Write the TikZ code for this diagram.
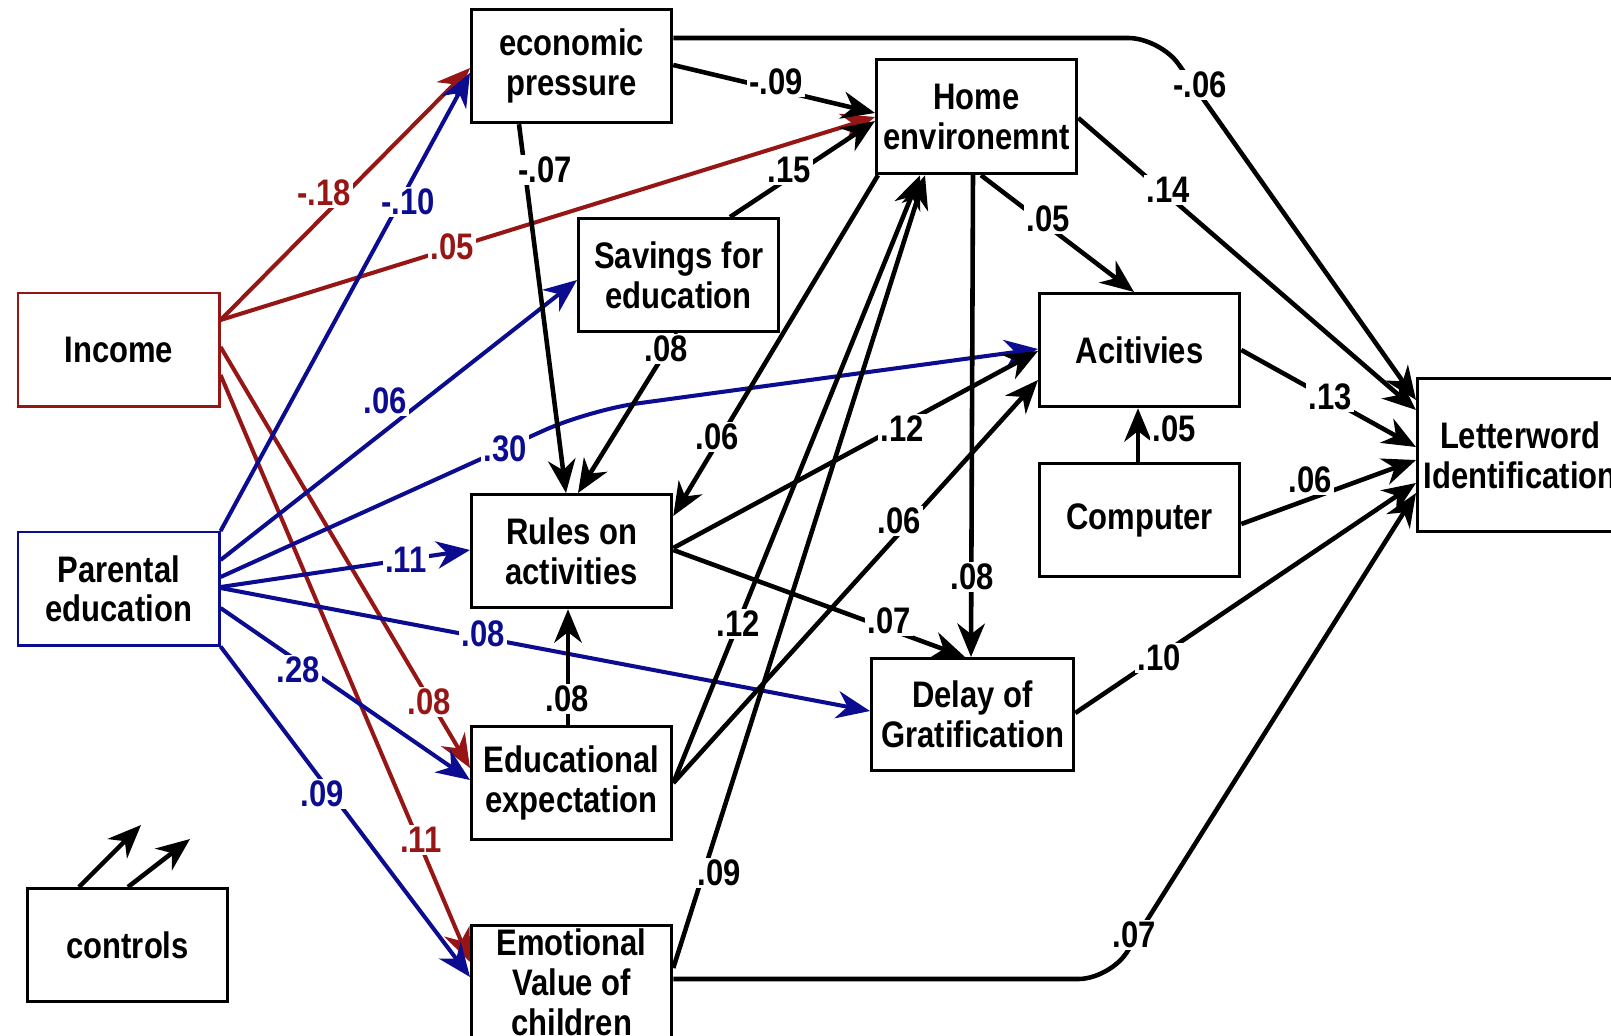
\documentclass[tikz,border=0pt]{standalone}
\usepackage{fontspec}
\newfontfamily\dfont{Liberation Sans}[FakeStretch=0.84]
\usetikzlibrary{arrows.meta,calc}
\definecolor{dred}{RGB}{150,22,22}
\definecolor{dblue}{RGB}{12,12,145}
\begin{document}
\begin{tikzpicture}[x=0.01cm,y=-0.01cm,
  txt/.style={font=\dfont\bfseries\fontsize{10.5}{11.3}\selectfont},
  box/.style={txt,draw,line width=0.9pt,fill=white,minimum width=2cm,minimum height=1.13cm,inner sep=0pt,align=center,anchor=north west},
  edge/.style={line width=1.3pt,-{Stealth[length=9.5pt,width=7.8pt,inset=3pt]}},
  redge/.style={edge,draw=dred,line width=1.15pt},
  bedge/.style={edge,draw=dblue,line width=1.15pt},
  lab/.style={txt,fill=white,inner sep=0.6pt},
  rlab/.style={lab,text=dred},
  blab/.style={lab,text=dblue},
]
\useasboundingbox (0,0) rectangle (1611,1036);
\fill[white] (0,0) rectangle (1611,1036);

% boxes
\node[box] (ep) at (470,8) {economic\\pressure};
\node[box,minimum height=1.14cm] (home) at (875,58) {Home\\environemnt};
\node[box] (sav) at (577,217) {Savings for\\education};
\node[box,draw=dred,line width=0.7pt,minimum width=2.01cm] (inc) at (17,292) {Income};
\node[box] (act) at (1038,292) {Acitivies};
\node[box,minimum width=2.05cm,minimum height=1.53cm] (lw) at (1416,377) {Letterword\\Identification};
\node[box] (comp) at (1038,462) {Computer};
\node[box,draw=dblue,line width=0.7pt,minimum width=2.01cm] (par) at (17,531) {Parental\\education};
\node[box] (rules) at (470,493) {Rules on\\activities};
\node[box,minimum width=2.02cm,minimum height=1.12cm] (delay) at (870,657) {Delay of\\Gratification};
\node[box] (edu) at (470,725) {Educational\\expectation};
\node[box] (emo) at (470,924) {Emotional\\Value of\\children};
\node[box] (ctrl) at (26,887) {controls};

% red connectors
\draw[redge] ($(inc.north east)+(0,28)$) -- ($(ep.north west)+(0,60)$);
\draw[redge] ($(inc.north east)+(0,28)$) -- ($(home.north west)+(0,59)$);
\draw[redge] ($(inc.north east)+(0,55)$) -- ($(edu.north west)+(0,43)$);
\draw[redge] ($(inc.north east)+(0,83)$) -- ($(emo.north west)+(0,38)$);

% blue connectors
\draw[bedge] (par.north east) -- ($(ep.north west)+(0,65)$);
\draw[bedge] ($(par.north east)+(0,29)$) -- ($(sav.north west)+(0,63)$);
\draw[bedge,rounded corners=14pt] ($(par.north east)+(0,46)$) -- (589,410) -- ($(act.north west)+(0,57)$);
\draw[bedge] ($(par.north east)+(0,56)$) -- ($(rules.north west)+(0,57)$);
\draw[bedge] ($(par.north east)+(0,57)$) -- ($(delay.north west)+(0,54)$);
\draw[bedge] ($(par.north east)+(0,77)$) -- ($(edu.north west)+(0,55)$);
\draw[bedge] (par.south east) -- ($(emo.north west)+(0,53)$);

% black connectors
\draw[edge] ($(ep.north east)+(0,57)$) -- ($(home.north west)+(0,55)$);
\draw[edge,rounded corners=9pt] ($(ep.north east)+(0,30)$) -- (1160,38) -- ($(lw.north west)+(0,23)$);
\draw[edge] ($(ep.south west)+(49,0)$) -- ($(rules.north west)+(96,0)$);
\draw[edge] ($(sav.north west)+(153,0)$) -- ($(home.north west)+(0,63)$);
\draw[edge] ($(sav.south west)+(100,0)$) -- ($(rules.north west)+(108,0)$);
\draw[edge] ($(home.south west)+(3,0)$) -- ($(rules.north east)+(0,23)$);
\draw[edge] ($(home.south west)+(106,0)$) -- ($(act.north west)+(96,0)$);
\draw[edge] ($(home.north east)+(0,60)$) -- ($(lw.north west)+(0,33)$);
\draw[edge] ($(home.south west)+(98,0)$) -- ($(delay.north west)+(101,0)$);
\draw[edge] ($(rules.north east)+(0,55)$) -- ($(act.north west)+(0,59)$);
\draw[edge] ($(rules.north east)+(0,57)$) -- ($(delay.north west)+(95,0)$);
\draw[edge] ($(edu.north west)+(98,0)$) -- ($(rules.south west)+(98,0)$);
\draw[edge] ($(edu.north east)+(0,58)$) -- ($(home.south west)+(45,0)$);
\draw[edge] ($(edu.north east)+(0,58)$) -- ($(act.north west)+(0,88)$);
\draw[edge] ($(emo.north east)+(0,44)$) -- ($(home.south west)+(50,0)$);
\draw[edge,rounded corners=9pt] ($(emo.north east)+(0,55)$) -- (1110,979) -- ($(lw.north west)+(0,116)$);
\draw[edge] ($(delay.north east)+(0,56)$) -- ($(lw.north west)+(0,106)$);
\draw[edge] ($(act.north east)+(0,58)$) -- ($(lw.north west)+(0,70)$);
\draw[edge] ($(comp.north west)+(100,0)$) -- ($(act.south west)+(100,0)$);
\draw[edge] ($(comp.north east)+(0,62)$) -- ($(lw.north west)+(0,83)$);

% controls
\coordinate (c1) at (141,825);
\coordinate (c2) at (190,839);
\draw[edge] ($(ctrl.north west)+(53,0)$) -- (c1);
\draw[edge] ($(ctrl.north west)+(102,0)$) -- (c2);

% red labels
\node[rlab] (r1) at (324,193) {-.18};
\node[rlab] (r2) at (452,247) {.05};
\node[rlab] (r3) at (429,702) {.08};
\node[rlab] (r4) at (421,840) {.11};
% blue labels
\node[blab] (b1) at (408,202) {-.10};
\node[blab] (b2) at (385,401) {.06};
\node[blab] (b3) at (505,449) {.30};
\node[blab] (b4) at (406,560) {.11};
\node[blab] (b5) at (483,634) {.08};
\node[blab] (b6) at (298,670) {.28};
\node[blab] (b7) at (322,794) {.09};
% black labels
\node[lab] (k1) at (776,82) {-.09};
\node[lab] (k2) at (545,170) {-.07};
\node[lab] (k3) at (1200,85) {-.06};
\node[lab] (k4) at (789,170) {.15};
\node[lab] (k5) at (666,349) {.08};
\node[lab] (k6) at (1168,190) {.14};
\node[lab] (k7) at (1048,219) {.05};
\node[lab] (k8) at (717,437) {.06};
\node[lab] (k9) at (902,429) {.12};
\node[lab] (k10) at (1330,397) {.13};
\node[lab] (k11) at (1174,429) {.05};
\node[lab] (k12) at (1310,480) {.06};
\node[lab] (k13) at (899,521) {.06};
\node[lab] (k14) at (972,577) {.08};
\node[lab] (k15) at (738,624) {.12};
\node[lab] (k16) at (889,621) {.07};
\node[lab] (k17) at (1159,658) {.10};
\node[lab] (k18) at (567,699) {.08};
\node[lab] (k19) at (719,873) {.09};
\node[lab] (k20) at (1134,935) {.07};
\end{tikzpicture}
\end{document}
